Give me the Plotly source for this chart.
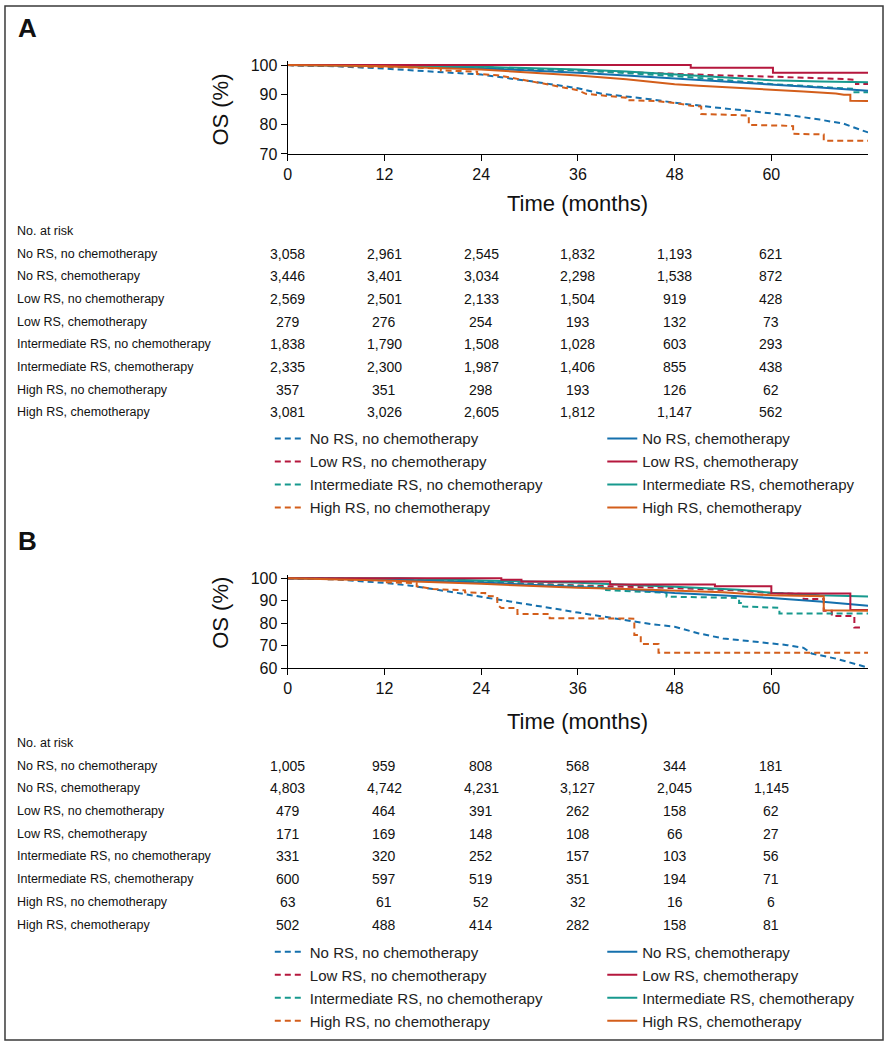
import plotly.graph_objects as go

W, H = 884, 1050
def px(x): return x / W
def py(y): return 1 - y / H

# ---------------- data ----------------
series_names = ["No RS, no chemotherapy", "Low RS, no chemotherapy",
                "Intermediate RS, no chemotherapy", "High RS, no chemotherapy",
                "No RS, chemotherapy", "Low RS, chemotherapy",
                "Intermediate RS, chemotherapy", "High RS, chemotherapy"]
risk_rows = ["No RS, no chemotherapy", "No RS, chemotherapy", "Low RS, no chemotherapy",
             "Low RS, chemotherapy", "Intermediate RS, no chemotherapy",
             "Intermediate RS, chemotherapy", "High RS, no chemotherapy", "High RS, chemotherapy"]
time_ticks = [0, 12, 24, 36, 48, 60]

# Panel A curves (months, OS %)
A_no_nochemo_t = [0, 6, 12, 18, 24, 30, 33, 36, 39, 42, 45, 48, 51, 54, 57, 60, 63, 66, 69, 71, 72]
A_no_nochemo_s = [100, 99.6, 98.8, 97.8, 96.8, 94.6, 93.3, 92.2, 90.3, 89.5, 88.5, 87.3, 86.3, 85.4, 84.6, 83.7, 82.8, 81.6, 80.2, 78.2, 77.3]
A_low_nochemo_t = [0, 12, 24, 30, 36, 42, 48, 54, 60, 66, 69, 70.5, 70.5, 72]
A_low_nochemo_s = [100, 99.8, 99.2, 98.8, 98.3, 97.6, 97.0, 96.5, 96.1, 95.7, 95.3, 95.0, 93.6, 93.6]
A_int_nochemo_t = [0, 12, 24, 36, 42, 48, 54, 60, 64, 68, 70, 70, 72]
A_int_nochemo_s = [100, 99.8, 99.2, 98.2, 97.3, 96.3, 95.0, 93.6, 93.0, 92.3, 92.0, 90.8, 90.8]
A_high_nochemo_t = [0, 10, 15, 19, 19, 23.5, 23.5, 26, 28.5, 30, 31.7, 33, 34.5, 36, 37, 40, 42, 42, 46, 48, 50, 51.3, 51.3, 57.2, 57.2, 61, 62.7, 62.7, 66.5, 66.5, 72]
A_high_nochemo_s = [100, 99.6, 99.2, 98.9, 98.2, 97.8, 97.0, 96.6, 95.5, 94.6, 93.8, 93.0, 92.3, 91.5, 90.3, 89.5, 89.0, 88.2, 87.8, 87.2, 86.3, 86.0, 83.5, 83.0, 79.8, 79.6, 79.4, 76.8, 76.6, 74.5, 74.5]
A_no_chemo_t = [0, 12, 24, 30, 36, 42, 48, 54, 60, 66, 72]
A_no_chemo_s = [100, 99.7, 98.9, 98.2, 97.4, 96.5, 95.5, 94.6, 93.6, 92.4, 91.3]
A_low_chemo_t = [0, 50, 50, 60.2, 60.2, 72]
A_low_chemo_s = [100, 100, 99.1, 99.1, 97.4, 97.4]
A_int_chemo_t = [0, 12, 24, 30, 36, 42, 48, 54, 60, 66, 72]
A_int_chemo_s = [100, 99.9, 99.4, 99.0, 98.5, 97.8, 96.9, 95.8, 94.9, 94.5, 94.2]
A_high_chemo_t = [0, 12, 24, 30, 36, 42, 48, 51, 54, 60, 64, 68, 69, 69.8, 69.8, 72]
A_high_chemo_s = [100, 99.6, 98.5, 97.6, 96.5, 95.2, 93.5, 93.0, 92.6, 91.8, 91.1, 90.4, 90.0, 90.0, 88.0, 87.9]

# Panel B curves
B_no_nochemo_t = [0, 6, 12, 15, 18, 21, 24, 27, 30, 33, 36, 40, 43, 45, 48, 51, 54, 57, 60, 62, 64, 65, 68, 70, 72]
B_no_nochemo_s = [100, 99.5, 97.9, 96.8, 95.2, 93.5, 91.9, 90.2, 88.2, 86.5, 84.7, 82.5, 80.7, 79.6, 78.4, 75.4, 73.2, 72.0, 71.0, 70.2, 69.0, 66.5, 64.2, 62.3, 60.2]
B_low_nochemo_t = [0, 12, 24, 36, 48, 56, 60, 64, 64, 66.5, 66.5, 67.5, 67.5, 70.3, 70.3, 71]
B_low_nochemo_s = [100, 99.6, 98.4, 96.8, 95.6, 94.5, 93.4, 93.0, 90.7, 90.7, 85.5, 85.5, 83.2, 83.2, 78.1, 78.1]
B_int_nochemo_t = [0, 12, 24, 36, 39.5, 39.5, 47, 47, 56, 56, 56.5, 56.5, 61, 61, 72]
B_int_nochemo_s = [100, 99.5, 98.3, 96.5, 96.0, 94.7, 93.5, 91.8, 91.2, 89.0, 89.0, 87.4, 86.8, 84.3, 84.3]
B_high_nochemo_t = [0, 12, 12, 16, 16, 18, 22, 22, 24.5, 24.5, 26, 26, 26.5, 28.5, 28.5, 32.5, 32.5, 43, 43, 43.8, 43.8, 46, 46, 72]
B_high_nochemo_s = [100, 99.0, 98.2, 97.8, 96.4, 95.2, 94.6, 93.7, 93.4, 92.2, 91.8, 88.2, 86.7, 86.7, 84.1, 84.1, 82.2, 82.0, 74.7, 74.7, 70.7, 70.7, 66.8, 66.8]
B_no_chemo_t = [0, 12, 24, 36, 42, 48, 54, 60, 66, 72]
B_no_chemo_s = [100, 99.5, 98.1, 96.3, 95.1, 93.4, 92.2, 91.2, 89.6, 87.7]
B_low_chemo_t = [0, 26.5, 26.5, 29, 29, 40, 40, 53, 53, 60, 60, 69.8, 69.8, 72]
B_low_chemo_s = [100, 100, 99.3, 99.3, 98.5, 98.5, 97.2, 97.2, 96.4, 96.4, 93.2, 93.2, 85.8, 85.8]
B_int_chemo_t = [0, 14, 24, 36, 48, 56, 60, 66, 72]
B_int_chemo_s = [100, 100, 99.0, 98.0, 96.2, 94.9, 93.5, 92.4, 91.9]
B_high_chemo_t = [0, 12, 24, 30, 36, 42, 48, 54, 58, 60, 66.5, 66.5, 72]
B_high_chemo_s = [100, 99.0, 97.5, 96.5, 95.7, 95.2, 94.5, 93.8, 92.8, 92.4, 92.0, 85.7, 85.5]

# Numbers at risk (rows in risk_rows order, columns at time_ticks)
A_at_risk = [["3,058", "2,961", "2,545", "1,832", "1,193", "621"],
             ["3,446", "3,401", "3,034", "2,298", "1,538", "872"],
             ["2,569", "2,501", "2,133", "1,504", "919", "428"],
             ["279", "276", "254", "193", "132", "73"],
             ["1,838", "1,790", "1,508", "1,028", "603", "293"],
             ["2,335", "2,300", "1,987", "1,406", "855", "438"],
             ["357", "351", "298", "193", "126", "62"],
             ["3,081", "3,026", "2,605", "1,812", "1,147", "562"]]
B_at_risk = [["1,005", "959", "808", "568", "344", "181"],
             ["4,803", "4,742", "4,231", "3,127", "2,045", "1,145"],
             ["479", "464", "391", "262", "158", "62"],
             ["171", "169", "148", "108", "66", "27"],
             ["331", "320", "252", "157", "103", "56"],
             ["600", "597", "519", "351", "194", "71"],
             ["63", "61", "52", "32", "16", "6"],
             ["502", "488", "414", "282", "158", "81"]]

# ---------------- styling ----------------
BLUE, RED, TEAL, ORANGE = "#1570ad", "#b5173d", "#17998e", "#d35e1b"
colors = [BLUE, RED, TEAL, ORANGE, BLUE, RED, TEAL, ORANGE]
dashes = ["6px,4px"] * 4 + ["solid"] * 4
NARROW = "Liberation Sans Narrow, Arial Narrow, Liberation Sans, Arial, sans-serif"
REG = "Liberation Sans, Arial, Helvetica, sans-serif"

A_curves = [(A_no_nochemo_t, A_no_nochemo_s), (A_low_nochemo_t, A_low_nochemo_s),
            (A_int_nochemo_t, A_int_nochemo_s), (A_high_nochemo_t, A_high_nochemo_s),
            (A_no_chemo_t, A_no_chemo_s), (A_low_chemo_t, A_low_chemo_s),
            (A_int_chemo_t, A_int_chemo_s), (A_high_chemo_t, A_high_chemo_s)]
B_curves = [(B_no_nochemo_t, B_no_nochemo_s), (B_low_nochemo_t, B_low_nochemo_s),
            (B_int_nochemo_t, B_int_nochemo_s), (B_high_nochemo_t, B_high_nochemo_s),
            (B_no_chemo_t, B_no_chemo_s), (B_low_chemo_t, B_low_chemo_s),
            (B_int_chemo_t, B_int_chemo_s), (B_high_chemo_t, B_high_chemo_s)]

fig = go.Figure()
order = [0, 3, 1, 2, 4, 6, 5, 7]
for panel, curves, xa, ya, legs in [("A", A_curves, "x", "y", ("legend", "legend2")),
                                     ("B", B_curves, "x2", "y2", ("legend3", "legend4"))]:
    for i in order:
        t, s = curves[i]
        fig.add_trace(go.Scatter(
            x=t, y=s, mode="lines", name=series_names[i],
            line=dict(color=colors[i], width=2, dash=dashes[i]),
            xaxis=xa, yaxis=ya, legend=legs[0] if i < 4 else legs[1],
            legendgroup=panel + str(i), legendrank=i, hoverinfo="skip"))

xl, xr = 285, 868
common_x = dict(range=[0, 72], tickvals=time_ticks, showline=True, linecolor="black",
                linewidth=1.2, ticks="outside", ticklen=6, tickcolor="black",
                tickfont=dict(family=NARROW, size=16, color="#111"), showgrid=False,
                zeroline=False, fixedrange=True)
common_y = dict(showline=True, linecolor="black", linewidth=1.2, ticks="outside",
                ticklen=6, tickcolor="black", tickfont=dict(family=NARROW, size=16, color="#111"),
                showgrid=False, zeroline=False, fixedrange=True)

fig.update_layout(
    width=W, height=H, margin=dict(l=0, r=0, t=0, b=0),
    paper_bgcolor="white", plot_bgcolor="white", showlegend=True,
    xaxis=dict(domain=[px(xl), px(xr)], anchor="y", **common_x),
    yaxis=dict(domain=[py(151), py(57)], anchor="x", range=[70, 101.3],
               tickvals=[70, 80, 90, 100], **common_y),
    xaxis2=dict(domain=[px(xl), px(xr)], anchor="y2", **common_x),
    yaxis2=dict(domain=[py(672), py(578)], anchor="x2", range=[60, 101.3],
                tickvals=[60, 70, 80, 90, 100], **common_y),
)

leg_common = dict(orientation="v", xanchor="left", yanchor="top", bgcolor="rgba(0,0,0,0)",
                  font=dict(family=REG, size=15, color="#222"), tracegroupgap=0.5,
                  traceorder="grouped", itemwidth=30)
fig.update_layout(
    legend=dict(x=px(267), y=py(423), **leg_common),
    legend2=dict(x=px(601), y=py(423), **leg_common),
    legend3=dict(x=px(267), y=py(943), **leg_common),
    legend4=dict(x=px(601), y=py(943), **leg_common),
)

ann = []
def add_text(text, x, y, size=12.5, family=REG, xanchor="left", xref="paper", bold=False, angle=0):
    ann.append(dict(text=("<b>%s</b>" % text) if bold else text, x=x, y=y, xref=xref, yref="paper",
                    xanchor=xanchor, yanchor="middle", showarrow=False, textangle=angle,
                    font=dict(family=family, size=size, color="#111")))

for panel, top, xref, table in [("A", 0, "x", A_at_risk), ("B", 520, "x2", B_at_risk)]:
    add_text(panel, px(12), py(top + 23), size=26, bold=True)
    add_text("OS (%)", px(218), py(106 if panel == "A" else 616), size=22, family=NARROW,
             xanchor="center", angle=-90)
    ann.append(dict(text="Time (months)", x=0.5, y=py(201 if panel == "A" else 726),
                    xref=xref + " domain", yref="paper", xanchor="center", yanchor="middle",
                    showarrow=False, font=dict(family=NARROW, size=22, color="#111")))
    base = 229 if panel == "A" else 748
    add_text("No. at risk", px(11), py(base))
    for r, lab in enumerate(risk_rows):
        yy = base + 23 + r * 23
        add_text(lab, px(11), py(yy))
        for c, tv in enumerate(time_ticks):
            add_text(table[r][c], tv, py(yy), size=14, family=NARROW, xanchor="center", xref=xref)

fig.update_layout(annotations=ann)
fig.add_shape(type="rect", xref="paper", yref="paper", x0=px(1), x1=px(883), y0=py(1049), y1=py(1),
              line=dict(color="#3a3a3a", width=1.5), fillcolor="rgba(0,0,0,0)")

fig.write_html("out.html", config={"displayModeBar": False},
               post_script="document.body.style.margin='0';document.body.style.padding='0';")
